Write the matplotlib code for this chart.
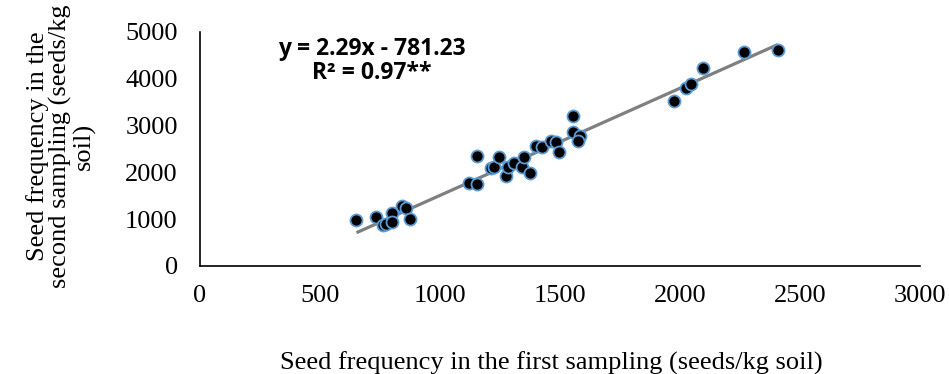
import matplotlib
matplotlib.use("Agg")
import matplotlib.pyplot as plt
import numpy as np

# seed counts (seeds/kg soil)
first_sampling = [652, 735, 763, 777, 801, 801, 843, 857, 875,
                  1121, 1156, 1156, 1212, 1226, 1244, 1275, 1282, 1309, 1341,
                  1351, 1375, 1400, 1424, 1463, 1483, 1494, 1556, 1556, 1584, 1577,
                  1975, 2027, 2045, 2096, 2266, 2407]
second_sampling = [983, 1053, 876, 897, 1140, 947, 1282, 1232, 997,
                   1766, 1745, 2357, 2087, 2122, 2336, 1930, 2122, 2208, 2122,
                   2322, 1980, 2564, 2550, 2678, 2657, 2429, 3212, 2870, 2785, 2678,
                   3533, 3810, 3882, 4224, 4579, 4615]
slope, intercept = 2.29, -781.23
eq_text = "y = 2.29x - 781.23\nR² = 0.97**"
x_ticks = [0, 500, 1000, 1500, 2000, 2500, 3000]
y_ticks = [0, 1000, 2000, 3000, 4000, 5000]

W, H = 949, 374
fig = plt.figure(figsize=(W / 100, H / 100), dpi=100)
ax = fig.add_axes([200 / W, 1 - 266 / H, 720 / W, 234 / H])

serif = "Liberation Serif"

fx = np.array([min(first_sampling), max(first_sampling)])
ax.plot(fx, slope * fx + intercept, color="#7f7f7f", lw=2.3, zorder=2,
        solid_capstyle="butt")
ax.scatter(first_sampling, second_sampling, s=75, c="black",
           edgecolors="#5b9bd5", linewidths=1.3, zorder=3)

ax.set_xlim(0, 3000)
ax.set_ylim(0, 5000)
ax.set_xticks(x_ticks)
ax.set_yticks(y_ticks)
ax.tick_params(length=0, labelsize=19)
ax.tick_params(axis="x", pad=14)
ax.tick_params(axis="y", pad=16)
for lab in ax.get_xticklabels() + ax.get_yticklabels():
    lab.set_fontfamily(serif)

for s in ("top", "right"):
    ax.spines[s].set_visible(False)
for s in ("left", "bottom"):
    ax.spines[s].set_linewidth(1.2)

ax.text(372 / W, 1 - 61 / H, eq_text, transform=fig.transFigure,
        ha="center", va="center", fontsize=16.5, fontweight="bold",
        family="Open Sans", linespacing=1.05)

fig.text(551 / W, 1 - 370 / H,
         "Seed frequency in the first sampling (seeds/kg soil)",
         ha="center", va="baseline", fontsize=19, family=serif)
fig.text(61 / W, 1 - 146 / H,
         "Seed frequency in the\nsecond sampling (seeds/kg\nsoil)",
         ha="center", va="center", rotation=90, fontsize=19,
         family=serif, linespacing=1.0)

fig.savefig("out.png", dpi=100)
